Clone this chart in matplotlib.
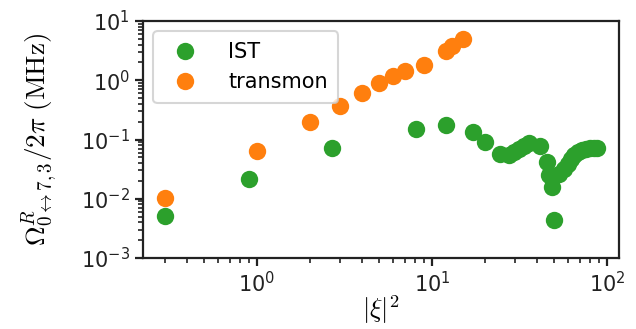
import matplotlib
matplotlib.use('Agg')
import matplotlib.pyplot as plt
import numpy as np

plt.rcParams['mathtext.fontset'] = 'cm'

# IST points
ist_x = [0.3, 0.9, 2.7, 8.1, 12.1, 17.1, 20.2, 24.6, 27.4, 29.5, 31.5, 33.5, 35.6,
         41.2, 45.4, 46.4, 48.5, 49.5, 53.5, 57.0, 59.5, 62.0, 65.0, 68.5, 72.0,
         76.0, 80.0, 84.0, 88.0]
ist_y = [0.0051, 0.0215, 0.072, 0.149, 0.176, 0.132, 0.09, 0.056, 0.055, 0.062,
         0.070, 0.078, 0.086, 0.078, 0.042, 0.025, 0.016, 0.0043, 0.026, 0.032,
         0.038, 0.046, 0.055, 0.062, 0.067, 0.070, 0.072, 0.073, 0.071]

# transmon points
tr_x = [0.3, 1, 2, 3, 4, 5, 6, 7, 9, 12, 13, 15]
tr_y = [0.0103, 0.065, 0.195, 0.37, 0.61, 0.89, 1.18, 1.43, 1.81, 3.12, 3.79, 4.97]

fig = plt.figure(figsize=(6.36, 3.29), dpi=100)
ax = fig.add_axes([0.2248, 0.2158, 0.7485, 0.7203])

ax.plot(ist_x, ist_y, 'o', color='#2ca02c', ms=12.5, mec='none', label='IST')
ax.plot(tr_x, tr_y, 'o', color='#ff7f0e', ms=12.5, mec='none', label='transmon')

ax.set_xscale('log')
ax.set_yscale('log')
ax.set_xlim(0.224, 117)
ax.set_ylim(1e-3, 1e1)

for s in ax.spines.values():
    s.set_linewidth(1.6)
    s.set_color('#222222')
ax.tick_params(which='major', length=6, width=1.6, labelsize=15, colors='#222222')
ax.tick_params(which='minor', length=3.5, width=1.2, colors='#222222')

ax.set_xlabel(r'$|\xi|^2$', fontsize=19, labelpad=-2)
ax.set_ylabel(r'$\Omega^R_{0\leftrightarrow 7,3}/2\pi\ (\mathrm{MHz})$', fontsize=19.5, labelpad=16)

leg = ax.legend(loc='upper left', fontsize=15, markerscale=1.0, handletextpad=1.1,
                borderpad=0.5, labelspacing=0.5, framealpha=0.8)
leg.get_frame().set_linewidth(1.5)

fig.savefig('out.png', dpi=100)
